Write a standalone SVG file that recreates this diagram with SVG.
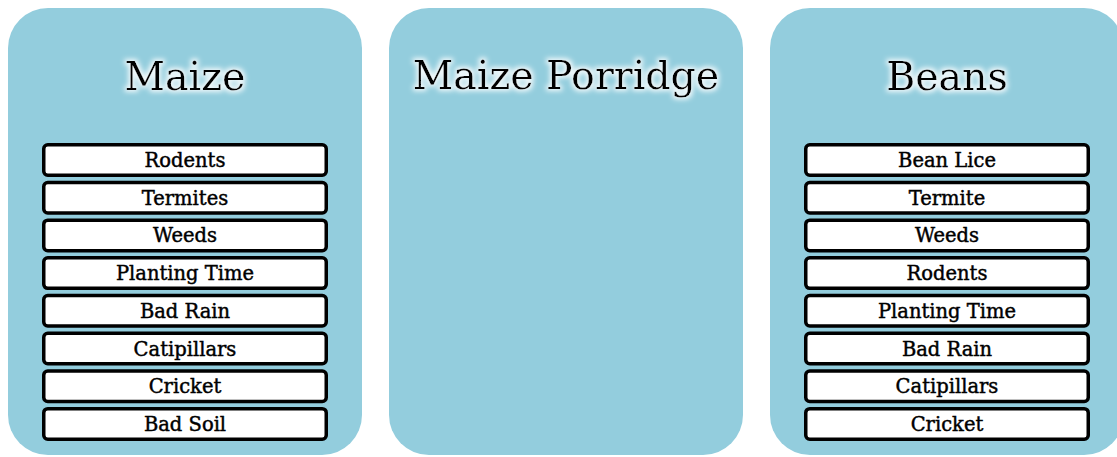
<svg xmlns="http://www.w3.org/2000/svg" width="1117" height="457" viewBox="0 0 1117 457">
<defs>
<style>
.panel{fill:#93CDDD;}
.title{font-family:"DejaVu Serif","Liberation Serif",serif;font-size:39.5px;fill:#000;text-anchor:middle;}
.box{fill:#fff;stroke:#000;stroke-width:3.5;}
.lbl{font-family:"DejaVu Serif","Liberation Serif",serif;font-size:19.5px;fill:#000;stroke:#000;stroke-width:0.45;text-anchor:middle;}
</style>
<filter id="glow" x="-20%" y="-40%" width="140%" height="180%">
<feMorphology in="SourceAlpha" operator="dilate" radius="2" result="d"/>
<feGaussianBlur in="d" stdDeviation="2.5" result="b"/>
<feFlood flood-color="#ffffff" flood-opacity="0.85"/>
<feComposite in2="b" operator="in" result="g"/>
<feMerge><feMergeNode in="g"/><feMergeNode in="SourceGraphic"/></feMerge>
</filter>
</defs>
<rect width="1117" height="457" fill="#fff"/>
<g id="panel-maize">
<rect class="panel" x="8" y="8" width="354" height="447" rx="40"/>
<text class="title" x="185" y="90" filter="url(#glow)">Maize</text>
</g>
<g id="panel-porridge">
<rect class="panel" x="389" y="8" width="354" height="447" rx="40"/>
<text class="title" x="566" y="89" filter="url(#glow)">Maize Porridge</text>
</g>
<g id="panel-beans">
<rect class="panel" x="770" y="8" width="354" height="447" rx="40"/>
<text class="title" x="947" y="90" filter="url(#glow)">Beans</text>
</g>
<g id="maize-items">
<g id="m1"><rect class="box" x="43.75" y="144.75" width="282.5" height="30.5" rx="4"/><text class="lbl" x="185" y="167">Rodents</text></g>
<g id="m2"><rect class="box" x="43.75" y="182.45" width="282.5" height="30.5" rx="4"/><text class="lbl" x="185" y="204.7">Termites</text></g>
<g id="m3"><rect class="box" x="43.75" y="220.15" width="282.5" height="30.5" rx="4"/><text class="lbl" x="185" y="242.4">Weeds</text></g>
<g id="m4"><rect class="box" x="43.75" y="257.85" width="282.5" height="30.5" rx="4"/><text class="lbl" x="185" y="280.1">Planting Time</text></g>
<g id="m5"><rect class="box" x="43.75" y="295.55" width="282.5" height="30.5" rx="4"/><text class="lbl" x="185" y="317.8">Bad Rain</text></g>
<g id="m6"><rect class="box" x="43.75" y="333.25" width="282.5" height="30.5" rx="4"/><text class="lbl" x="185" y="355.5">Catipillars</text></g>
<g id="m7"><rect class="box" x="43.75" y="370.95" width="282.5" height="30.5" rx="4"/><text class="lbl" x="185" y="393.2">Cricket</text></g>
<g id="m8"><rect class="box" x="43.75" y="408.65" width="282.5" height="30.5" rx="4"/><text class="lbl" x="185" y="430.9">Bad Soil</text></g>
</g>
<g id="beans-items">
<g id="b1"><rect class="box" x="805.75" y="144.75" width="282.5" height="30.5" rx="4"/><text class="lbl" x="947" y="167">Bean Lice</text></g>
<g id="b2"><rect class="box" x="805.75" y="182.45" width="282.5" height="30.5" rx="4"/><text class="lbl" x="947" y="204.7">Termite</text></g>
<g id="b3"><rect class="box" x="805.75" y="220.15" width="282.5" height="30.5" rx="4"/><text class="lbl" x="947" y="242.4">Weeds</text></g>
<g id="b4"><rect class="box" x="805.75" y="257.85" width="282.5" height="30.5" rx="4"/><text class="lbl" x="947" y="280.1">Rodents</text></g>
<g id="b5"><rect class="box" x="805.75" y="295.55" width="282.5" height="30.5" rx="4"/><text class="lbl" x="947" y="317.8">Planting Time</text></g>
<g id="b6"><rect class="box" x="805.75" y="333.25" width="282.5" height="30.5" rx="4"/><text class="lbl" x="947" y="355.5">Bad Rain</text></g>
<g id="b7"><rect class="box" x="805.75" y="370.95" width="282.5" height="30.5" rx="4"/><text class="lbl" x="947" y="393.2">Catipillars</text></g>
<g id="b8"><rect class="box" x="805.75" y="408.65" width="282.5" height="30.5" rx="4"/><text class="lbl" x="947" y="430.9">Cricket</text></g>
</g>
<g id="connectors"/>
</svg>
